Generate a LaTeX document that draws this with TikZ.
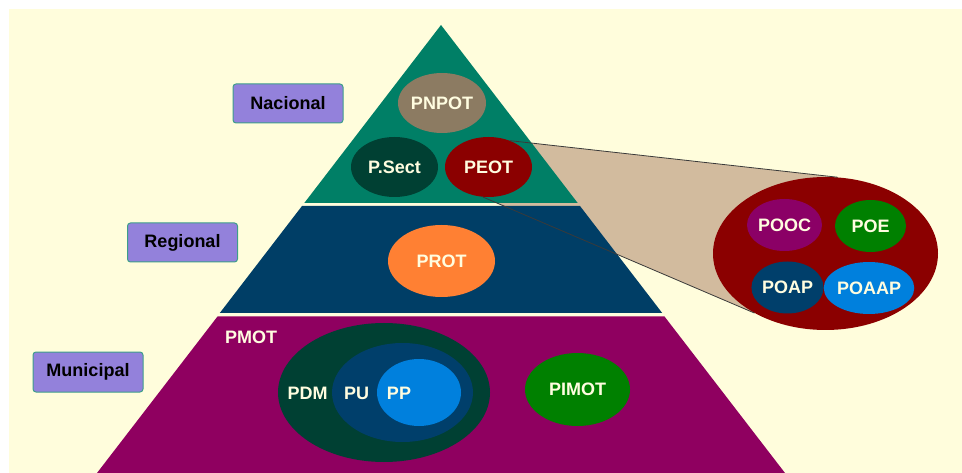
\documentclass[tikz,border=0pt]{standalone}
\usepackage{fontspec}
\setmainfont{Liberation Sans}
\usetikzlibrary{shapes.geometric}
\pgfdeclarelayer{bg}
\pgfdeclarelayer{funnel}
\pgfsetlayers{bg,funnel,main}

\definecolor{paper}{HTML}{FFFDDC}
\definecolor{textcream}{HTML}{FFFDE0}
\definecolor{tiergreen}{HTML}{007F66}
\definecolor{tierblue}{HTML}{003E66}
\definecolor{tierpurple}{HTML}{8F0060}
\definecolor{pnpotc}{HTML}{8C7B62}
\definecolor{darkgreen}{HTML}{004033}
\definecolor{darkred}{HTML}{8B0000}
\definecolor{orangec}{HTML}{FF8033}
\definecolor{boxfill}{HTML}{9381DB}
\definecolor{boxedge}{HTML}{3E9E8A}
\definecolor{tanc}{HTML}{D2BB9E}
\definecolor{plumc}{HTML}{8B0066}
\definecolor{greenc}{HTML}{008000}
\definecolor{navyc}{HTML}{003F6B}
\definecolor{skyc}{HTML}{0080DD}
\definecolor{zoomgray}{HTML}{3A3A3A}

\begin{document}
\begin{tikzpicture}[x=1pt,y=-1pt,
  font=\bfseries\fontsize{18}{20}\selectfont,
  plan/.style={ellipse, inner sep=0pt, text=textcream},
  plantext/.style={inner sep=0pt, text=textcream},
  level/.style={draw=boxedge, line width=1pt, fill=boxfill, rounded corners=3pt,
                minimum width=110pt, minimum height=39pt, inner sep=0pt, text=black},
  zoomline/.style={draw=zoomgray, line width=0.8pt}]

\useasboundingbox (0,0) rectangle (962,473);
\begin{pgfonlayer}{bg}
  \fill[paper] (9,9) rectangle (962,473);
\end{pgfonlayer}

% pyramid tiers
\fill[tiergreen] (441,25) -- (577.7,203) -- (304.3,203) -- cycle;
\fill[tierblue] (302,206) -- (580,206) -- (662.2,313) -- (219.8,313) -- cycle;
\fill[tierpurple] (217.5,316.5) -- (664.5,316.5) -- (785,473) -- (97,473) -- cycle;

% level labels
\node[level] (nacional) at (288,103.5) {Nacional};
\node[level] (regional) at (182.5,242.5) {Regional};
\node[level, minimum height=40pt] (municipal) at (88,372) {Municipal};

% national plans
\node[plan, fill=pnpotc, minimum width=88pt, minimum height=60pt] (pnpot) at (442,103) {PNPOT};
\node[plan, fill=darkgreen, minimum width=87pt, minimum height=60pt] (psect) at (394.5,167) {P.Sect};
\node[plan, fill=darkred, minimum width=87pt, minimum height=60pt] (peot) at (488.5,167) {PEOT};

% regional plan
\node[plan, fill=orangec, minimum width=107pt, minimum height=72pt] (prot) at (441.5,261) {PROT};

% municipal plans
\node[plantext] (pmot) at (251,337) {PMOT};
\node[plan, fill=darkgreen, minimum width=212pt, minimum height=139pt] (pdm) at (384,392.5) {};
\node[plan, fill=navyc, minimum width=141pt, minimum height=99pt] (pu) at (402.5,392.5) {};
\node[plan, fill=skyc, minimum width=84pt, minimum height=67pt] (pp) at (419,392.5) {};
\node[plantext] (pdmtext) at (307.5,393) {PDM};
\node[plantext] (putext) at (356.7,393) {PU};
\node[plantext] (pptext) at (399,393) {PP};
\node[plan, fill=greenc, minimum width=105pt, minimum height=73pt] (pimot) at (577.5,389.5) {PIMOT};

% special plans, detail of PEOT
\node[plan, fill=darkred, minimum width=225pt, minimum height=153pt] (special) at (825.5,253.5) {};
\node[plan, fill=plumc, minimum width=71pt, minimum height=52pt] (pooc) at (784.5,225) {POOC};
\node[plan, fill=greenc, minimum width=71pt, minimum height=52pt] (poe) at (870.5,226) {POE};
\node[plan, fill=navyc, minimum width=71pt, minimum height=52pt] (poap) at (787.5,287.5) {POAP};
\node[plan, fill=skyc, minimum width=72pt, minimum height=52pt] (poaap) at (869,288) {POAAP};

% magnifier funnel from PEOT to its detail
\begin{pgfonlayer}{funnel}
  \fill[tanc] (peot.51) -- (special.81) -- (special.220) -- (peot.259) -- cycle;
\end{pgfonlayer}
\draw[zoomline] (peot.51) -- (special.81);
\draw[zoomline] (peot.259) -- (special.220);
\end{tikzpicture}
\end{document}
